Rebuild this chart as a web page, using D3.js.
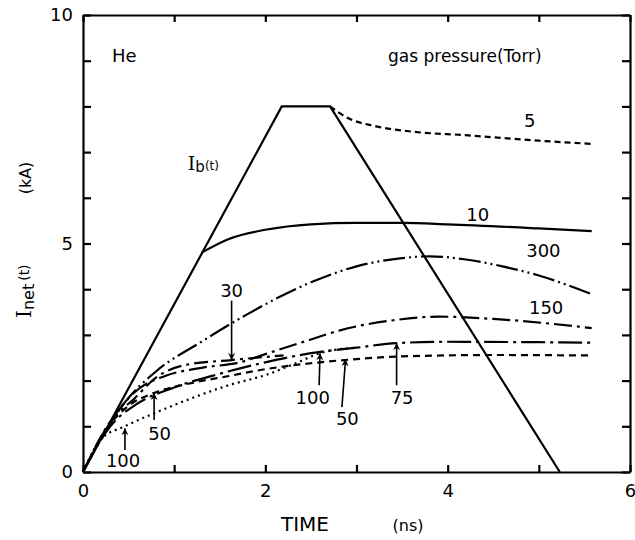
<!DOCTYPE html>
<html>
<head>
<meta charset="utf-8">
<script src="https://cdn.jsdelivr.net/npm/d3@7"></script>
<style>
  body { margin: 0; background: #fff; }
  text { font-family: "DejaVu Sans", sans-serif; fill: #000; }
  .axis path, .axis line { stroke: #000; stroke-width: 2.2; }
  .axis text { font-size: 18px; font-family: "DejaVu Sans", sans-serif; }
</style>
</head>
<body>
<script>
// beam current I_b(t): [time ns, kA]
const beam = [[0, 0], [2.18, 8], [2.71, 8], [5.23, 0]];

// net current curves per gas pressure (Torr)
const p5 = [[2.71, 8], [2.9, 7.75], [3.2, 7.57], [3.6, 7.45], [4.2, 7.37], [5.0, 7.25], [5.58, 7.18]];
const p10 = [[1.3, 4.8], [1.6, 5.1], [2.0, 5.3], [2.5, 5.42], [3.0, 5.45], [3.5, 5.45], [4.0, 5.42], [5.0, 5.33], [5.58, 5.27]];
const p300 = [[0, 0], [0.25, 0.9], [0.45, 1.5], [0.8, 2.2], [1.3, 2.85], [1.8, 3.45], [2.5, 4.15], [3.0, 4.5], [3.5, 4.68], [3.8, 4.72], [4.2, 4.65], [4.6, 4.5], [5.0, 4.3], [5.58, 3.89]];
const p150 = [[0, 0], [0.3, 1.1], [0.6, 1.8], [0.9, 2.1], [1.3, 2.28], [1.72, 2.4], [2.0, 2.58], [2.5, 2.9], [2.82, 3.1], [3.44, 3.33], [3.9, 3.4], [4.5, 3.35], [5.58, 3.15]];
const p30 = [[0, 0], [0.3, 1.1], [0.57, 1.62], [0.79, 2.05], [1.12, 2.34], [1.63, 2.45], [1.9, 2.5], [2.2, 2.55]];
const p75 = [[0, 0], [0.3, 1.0], [0.6, 1.5], [1.0, 1.85], [1.5, 2.15], [2.0, 2.4], [2.5, 2.6], [3.0, 2.72], [3.44, 2.82], [4.0, 2.85], [5.0, 2.84], [5.58, 2.83]];
const p100 = [[0, 0], [0.2, 0.72], [0.46, 1.0], [0.8, 1.3], [1.2, 1.62], [1.6, 1.9], [2.0, 2.12], [2.3, 2.35], [2.6, 2.6], [3.0, 2.72]];
const p50 = [[0, 0], [0.3, 1.05], [0.5, 1.45], [0.78, 1.73], [1.2, 1.95], [1.6, 2.1], [2.0, 2.25], [2.5, 2.38], [2.87, 2.45], [3.5, 2.53], [4.5, 2.56], [5.58, 2.55]];

const xTicks = [0, 1, 2, 3, 4, 5, 6];
const xLabels = [0, 2, 4, 6];
const yTicks = [0, 1, 2, 3, 4, 5, 6, 7, 8, 9, 10];
const yLabels = [0, 5, 10];

// curve labels [text, t, I]
const curveLabels = [["5", 4.9, 7.55], ["10", 4.33, 5.5], ["300", 5.05, 4.7], ["150", 5.08, 3.46]];
// arrow notes [text, label t, label I, arrow t0, I0, t1, I1]
const arrowNotes = [
  ["30", 1.63, 3.98, 1.63, 3.75, 1.63, 2.45],
  ["100", 0.44, 0.26, 0.46, 0.48, 0.46, 0.96],
  ["50", 0.84, 0.85, 0.78, 1.14, 0.78, 1.73],
  ["100", 2.52, 1.62, 2.59, 1.9, 2.6, 2.6],
  ["50", 2.9, 1.18, 2.84, 1.42, 2.88, 2.47],
  ["75", 3.5, 1.62, 3.44, 1.9, 3.44, 2.82]
];

const width = 635, height = 540;
const margin = {left: 83, right: 5, top: 15, bottom: 68};

const x = d3.scaleLinear().domain([0, 6]).range([margin.left, width - margin.right]);
const y = d3.scaleLinear().domain([0, 10]).range([height - margin.bottom, margin.top]);

const svg = d3.select("body").append("svg")
  .attr("width", width)
  .attr("height", height);

svg.append("defs").append("marker")
  .attr("id", "head")
  .attr("viewBox", "0 0 10 10")
  .attr("refX", 10).attr("refY", 5)
  .attr("markerWidth", 7).attr("markerHeight", 9)
  .attr("markerUnits", "userSpaceOnUse")
  .attr("orient", "auto")
  .append("path")
  .attr("d", "M0,0 L10,5 L0,10 L3,5 Z")
  .attr("fill", "#000");

// axes, ticks pointing inward
svg.append("g")
  .attr("class", "axis")
  .attr("transform", "translate(0," + y(0) + ")")
  .call(d3.axisBottom(x).tickValues(xTicks).tickSize(-7).tickSizeOuter(0).tickPadding(12)
    .tickFormat(d => xLabels.includes(d) ? d : ""));

svg.append("g")
  .attr("class", "axis")
  .attr("transform", "translate(0," + y(10) + ")")
  .call(d3.axisTop(x).tickValues(xTicks).tickSize(-7).tickSizeOuter(0).tickFormat(""));

svg.append("g")
  .attr("class", "axis")
  .attr("transform", "translate(" + x(0) + ",0)")
  .call(d3.axisLeft(y).tickValues(yTicks).tickSize(-8).tickSizeOuter(0).tickPadding(10)
    .tickFormat(d => yLabels.includes(d) ? d : ""));

svg.append("g")
  .attr("class", "axis")
  .attr("transform", "translate(" + x(6) + ",0)")
  .call(d3.axisRight(y).tickValues(yTicks).tickSize(-8).tickSizeOuter(0).tickFormat(""));

svg.selectAll(".axis .domain").attr("stroke-width", 2.4);

// axis titles
svg.append("text")
  .attr("x", 305).attr("y", 531)
  .style("text-anchor", "middle")
  .style("font-size", "20px")
  .text("TIME");
svg.append("text")
  .attr("x", 408).attr("y", 531)
  .style("text-anchor", "middle")
  .style("font-size", "16px")
  .text("(ns)");

const yTitle = svg.append("text")
  .attr("transform", "translate(31,318) rotate(-90)")
  .style("font-size", "20px");
yTitle.append("tspan").style("font-family", "DejaVu Serif").text("I");
yTitle.append("tspan").attr("dy", 3).style("font-size", "16px").text("net");
yTitle.append("tspan").attr("dx", 3).attr("dy", -5).style("font-size", "14px").text("(t)");

svg.append("text")
  .attr("transform", "translate(31,178) rotate(-90)")
  .style("text-anchor", "middle")
  .style("font-size", "16px")
  .text("(kA)");

// legend texts
svg.append("text").attr("x", 112).attr("y", 62).style("font-size", "18px").text("He");
svg.append("text").attr("x", 388).attr("y", 62).style("font-size", "17px").text("gas pressure(Torr)");

const ibLabel = svg.append("text")
  .attr("x", x(1.15)).attr("y", y(6.6))
  .style("font-size", "19px");
ibLabel.append("tspan").style("font-family", "DejaVu Serif").text("I");
ibLabel.append("tspan").attr("dy", 2).style("font-size", "15px").text("b");
ibLabel.append("tspan").attr("dy", -2).style("font-size", "12px").text("(t)");

// curves
const line = d3.line().x(d => x(d[0])).y(d => y(d[1]));
const smooth = d3.line().x(d => x(d[0])).y(d => y(d[1])).curve(d3.curveMonotoneX);

const series = [
  {data: beam, gen: line, dash: null},
  {data: p5, gen: smooth, dash: "6,4"},
  {data: p10, gen: smooth, dash: null},
  {data: p300, gen: smooth, dash: "22,4,2,4,2,4"},
  {data: p150, gen: smooth, dash: "18,5,3,5"},
  {data: p30, gen: smooth, dash: "14,5,3,5"},
  {data: p75, gen: smooth, dash: "24,5,3,5"},
  {data: p100, gen: smooth, dash: "2,4"},
  {data: p50, gen: smooth, dash: "7,5"}
];

svg.selectAll("path.curve")
  .data(series)
  .enter()
  .append("path")
  .attr("class", "curve")
  .attr("d", d => d.gen(d.data))
  .attr("fill", "none")
  .attr("stroke", "#000")
  .attr("stroke-width", 2.2)
  .attr("stroke-dasharray", d => d.dash);

svg.selectAll("text.clabel")
  .data(curveLabels)
  .enter()
  .append("text")
  .attr("class", "clabel")
  .attr("x", d => x(d[1]))
  .attr("y", d => y(d[2]))
  .style("text-anchor", "middle")
  .style("font-size", "18px")
  .text(d => d[0]);

svg.selectAll("line.arrow")
  .data(arrowNotes)
  .enter()
  .append("line")
  .attr("class", "arrow")
  .attr("x1", d => x(d[3])).attr("y1", d => y(d[4]))
  .attr("x2", d => x(d[5])).attr("y2", d => y(d[6]))
  .attr("stroke", "#000")
  .attr("stroke-width", 1.6)
  .attr("marker-end", "url(#head)");

svg.selectAll("text.alabel")
  .data(arrowNotes)
  .enter()
  .append("text")
  .attr("class", "alabel")
  .attr("x", d => x(d[1]))
  .attr("y", d => y(d[2]))
  .attr("dy", "0.36em")
  .style("text-anchor", "middle")
  .style("font-size", "18px")
  .text(d => d[0]);
</script>
</body>
</html>
